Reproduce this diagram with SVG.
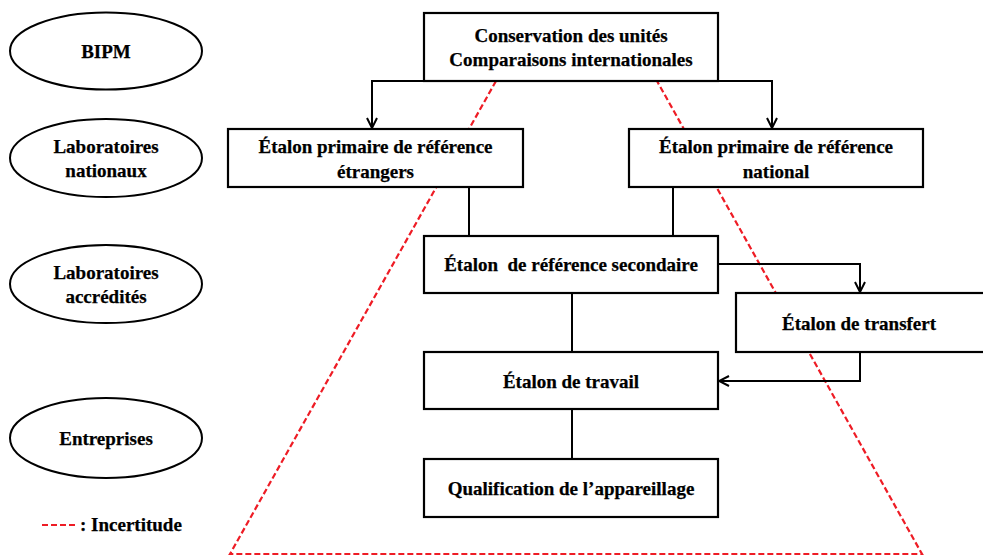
<svg xmlns="http://www.w3.org/2000/svg" width="983" height="557" viewBox="0 0 983 557">
<style>
text{font-family:"Liberation Serif","Times New Roman",serif;font-weight:bold;font-size:19px;fill:#000;stroke:#000;stroke-width:0.25;text-anchor:middle}
.box{fill:#fff;stroke:#000;stroke-width:2.2}
.ell{fill:#fff;stroke:#000;stroke-width:2}
.con{fill:none;stroke:#000;stroke-width:2}
.unc{fill:none;stroke:#ee1c25;stroke-width:2.2;stroke-dasharray:6 3}
</style>
<defs>
<marker id="arr" viewBox="0 0 12 12" markerWidth="12" markerHeight="12" refX="11" refY="6" orient="auto" markerUnits="userSpaceOnUse">
<path d="M1,1 L11,6 L1,11" fill="none" stroke="#000" stroke-width="2"/>
</marker>
</defs>
<g id="uncertainty">
<path class="unc" d="M496,81 L230,554 L922,554 L657,81"/>
</g>
<g id="connectors">
<path class="con" d="M424,81 H372 V128" marker-end="url(#arr)"/>
<path class="con" d="M718,81 H772 V128" marker-end="url(#arr)"/>
<path class="con" d="M469,187 V236"/>
<path class="con" d="M673,187 V236"/>
<path class="con" d="M718,264 H860 V292" marker-end="url(#arr)"/>
<path class="con" d="M860,352 V381 H719" marker-end="url(#arr)"/>
<path class="con" d="M572,293 V352"/>
<path class="con" d="M572,409 V459"/>
</g>
<g id="bipm"><ellipse class="ell" cx="106" cy="51" rx="96" ry="38.5"/><text x="106" y="58">BIPM</text></g>
<g id="labnat"><ellipse class="ell" cx="106" cy="158" rx="96" ry="39"/><text x="106" y="153">Laboratoires</text><text x="106" y="177">nationaux</text></g>
<g id="labacc"><ellipse class="ell" cx="106" cy="284" rx="96" ry="39"/><text x="106" y="279">Laboratoires</text><text x="106" y="303">accrédités</text></g>
<g id="entreprises"><ellipse class="ell" cx="106" cy="438" rx="96" ry="40"/><text x="106" y="445">Entreprises</text></g>
<g id="legend"><path class="unc" d="M42,525 H77"/><text x="80" y="531" style="text-anchor:start">: Incertitude</text></g>
<g id="conservation"><rect class="box" x="424" y="13" width="294" height="68"/><text x="571" y="42">Conservation des unités</text><text x="571" y="66">Comparaisons internationales</text></g>
<g id="etranger"><rect class="box" x="228" y="129" width="295" height="58"/><text x="375.5" y="153">Étalon primaire de référence</text><text x="375.5" y="178">étrangers</text></g>
<g id="national"><rect class="box" x="629" y="129" width="294" height="58"/><text x="776" y="153">Étalon primaire de référence</text><text x="776" y="178">national</text></g>
<g id="secondaire"><rect class="box" x="424" y="236" width="294" height="57"/><text x="571" y="271" xml:space="preserve">Étalon  de référence secondaire</text></g>
<g id="transfert"><rect class="box" x="736" y="293" width="252" height="59"/><text x="859" y="330">Étalon de transfert</text></g>
<g id="travail"><rect class="box" x="424" y="352" width="294" height="57"/><text x="571" y="388">Étalon de travail</text></g>
<g id="qualification"><rect class="box" x="424" y="459" width="294" height="58"/><text x="571" y="495">Qualification de l’appareillage</text></g>
</svg>
